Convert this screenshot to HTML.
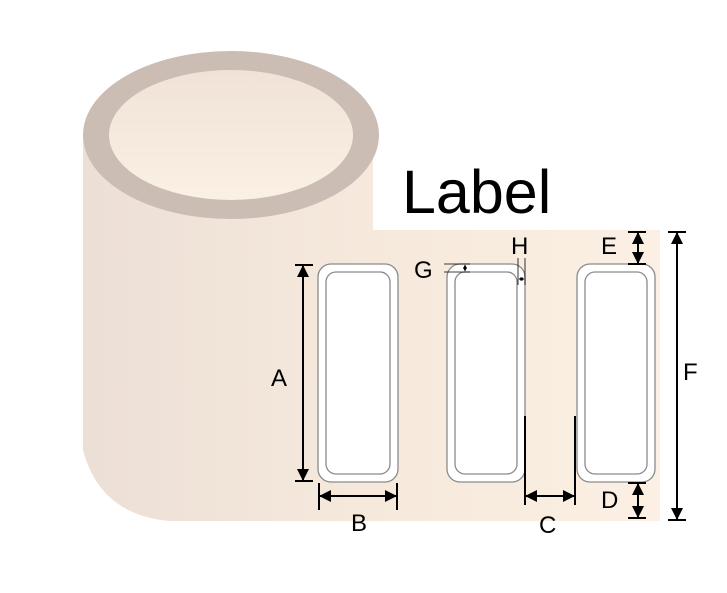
<!DOCTYPE html>
<html><head><style>html,body{margin:0;padding:0;background:#fff}svg{display:block}</style></head><body>
<svg width="727" height="593" viewBox="0 0 727 593" xmlns="http://www.w3.org/2000/svg" font-family="Liberation Sans, sans-serif">
<defs>
<linearGradient id="bg" x1="0" x2="1" y1="0" y2="0"><stop offset="0" stop-color="#ecdfd6"/><stop offset="0.5" stop-color="#f6e9dc"/><stop offset="1" stop-color="#fbf0e3"/></linearGradient>
<linearGradient id="in" x1="0" x2="0" y1="0" y2="1"><stop offset="0" stop-color="#f0e2d6"/><stop offset="1" stop-color="#fbf0e4"/></linearGradient>
<marker id="ar" markerWidth="12" markerHeight="12" refX="11" refY="6" orient="auto-start-reverse" markerUnits="userSpaceOnUse"><path d="M0,0 L12,6 L0,12 Z" fill="#000"/></marker>
<marker id="sm" markerWidth="4" markerHeight="4" refX="3.5" refY="2" orient="auto-start-reverse" markerUnits="userSpaceOnUse"><path d="M0,0 L4,2 L0,4 Z" fill="#000"/></marker>
</defs>
<path d="M83,135 L373,135 L373,230 L660,230 L660,521 L170,521 Q100,515 83,450 Z" fill="url(#bg)"/>
<ellipse cx="231" cy="135" rx="148" ry="84" fill="#cbbdb4"/>
<ellipse cx="231" cy="135" rx="122" ry="65" fill="url(#in)"/>
<text x="402" y="213" font-size="61">Label</text>
<g fill="#fff" stroke="#8a8a8a" stroke-width="1.3">
<rect x="318" y="264" width="80" height="218" rx="13"/><rect x="326" y="272" width="64" height="202" rx="10"/>
<rect x="447" y="264" width="78" height="218" rx="13"/><rect x="455" y="272" width="62" height="202" rx="10"/>
<rect x="577" y="264" width="78" height="218" rx="13"/><rect x="585" y="272" width="62" height="202" rx="10"/>
</g>
<g stroke="#000" stroke-width="2" fill="none">
<line x1="295" y1="265" x2="313" y2="265"/><line x1="295" y1="481" x2="313" y2="481"/>
<line x1="303" y1="266" x2="303" y2="480" marker-start="url(#ar)" marker-end="url(#ar)"/>
<line x1="319" y1="483" x2="319" y2="510"/><line x1="397" y1="483" x2="397" y2="510"/>
<line x1="320" y1="496" x2="396" y2="496" marker-start="url(#ar)" marker-end="url(#ar)"/>
<line x1="525" y1="416" x2="525" y2="505"/><line x1="575" y1="416" x2="575" y2="505"/>
<line x1="526" y1="496" x2="574" y2="496" marker-start="url(#ar)" marker-end="url(#ar)"/>
<line x1="628" y1="483" x2="646" y2="483"/><line x1="628" y1="518" x2="646" y2="518"/>
<line x1="638" y1="484" x2="638" y2="517" marker-start="url(#ar)" marker-end="url(#ar)"/>
<line x1="628" y1="232" x2="646" y2="232"/><line x1="628" y1="264" x2="646" y2="264"/>
<line x1="638" y1="233" x2="638" y2="263" marker-start="url(#ar)" marker-end="url(#ar)"/>
<line x1="668" y1="232" x2="686" y2="232"/><line x1="668" y1="520" x2="686" y2="520"/>
<line x1="677" y1="233" x2="677" y2="519" marker-start="url(#ar)" marker-end="url(#ar)"/>
</g>
<g stroke="#000" stroke-width="0.8" fill="none">
<line x1="444" y1="264" x2="470" y2="264"/><line x1="444" y1="272" x2="470" y2="272"/>
<line x1="465" y1="265" x2="465" y2="271" marker-start="url(#sm)" marker-end="url(#sm)"/>
<line x1="518" y1="258" x2="518" y2="285"/><line x1="525" y1="258" x2="525" y2="285"/>
<line x1="519" y1="279" x2="524" y2="279" marker-start="url(#sm)" marker-end="url(#sm)"/>
</g>
<g font-size="24" fill="#000">
<text x="271" y="386">A</text><text x="351" y="531">B</text><text x="539" y="533">C</text>
<text x="601" y="508">D</text><text x="601" y="254">E</text><text x="683" y="380">F</text>
<text x="414" y="278">G</text><text x="511" y="254">H</text>
</g>
</svg>
</body></html>
